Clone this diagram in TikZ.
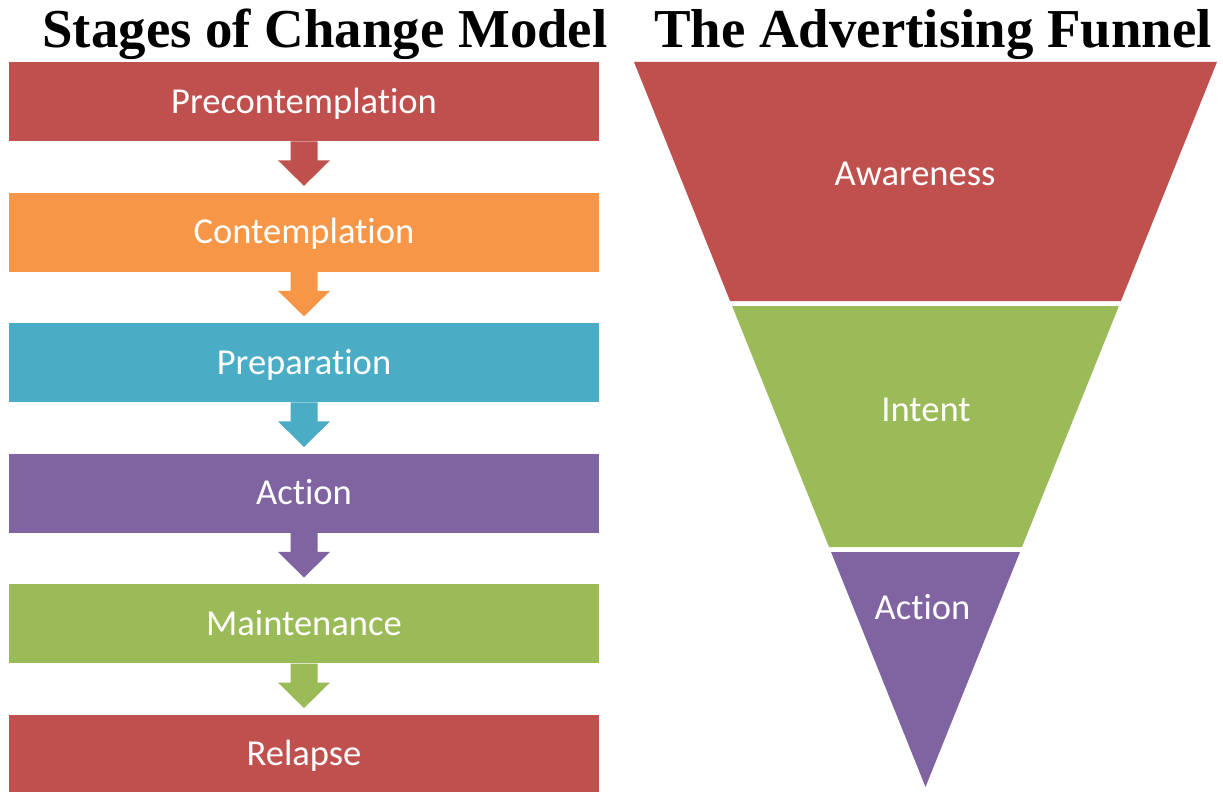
\documentclass[tikz,border=0pt]{standalone}
\usepackage{fontspec}
\setmainfont[Ligatures=NoCommon]{Carlito}
\newfontfamily\titlefont{Liberation Serif}
\usepackage{tikz}
\usetikzlibrary{positioning,calc}

\definecolor{redstage}{HTML}{C0504D}
\definecolor{orangestage}{HTML}{F79646}
\definecolor{bluestage}{HTML}{4BACC6}
\definecolor{purplestage}{HTML}{8064A2}
\definecolor{greenstage}{HTML}{9BBB59}

\begin{document}
\begin{tikzpicture}[
    node distance=1.275cm,
    stage/.style={rectangle, fill=#1, minimum width=14.75cm, minimum height=1.975cm, inner sep=0pt, text=white, font=\fontsize{26}{30}\selectfont, text height=16.5pt, text depth=0pt},
    heading/.style={anchor=base, font=\titlefont\bfseries\fontsize{39}{44}\selectfont},
    funnellabel/.style={text=white, inner sep=0pt, font=\fontsize{26}{30}\selectfont, text height=16.5pt, text depth=0pt},
    stagearrow/.style={to path={
        ($(\tikztostart)+(-0.3375,0)$) -- ++(0,-0.475) -- ++(-0.3125,0)
        -- ($(\tikztotarget)+(0,0.16)$)
        -- ($(\tikztostart)+(0.65,-0.475)$) -- ++(-0.3125,0) -- ++(0,0.475) -- cycle}}
]
\useasboundingbox (0,0) rectangle (30.575,-19.775);

% Headings
\node[heading] (stagestitle) at (8.125,-1.175) {Stages of Change Model};
\node[heading] (funneltitle) at (23.325,-1.175) {The Advertising Funnel};

% Stages of change (left column)
\node[stage=redstage] (pre) at (7.6,-2.5375) {Precontemplation};
\node[stage=orangestage, below=of pre] (con) {Contemplation};
\node[stage=bluestage, below=of con] (prep) {Preparation};
\node[stage=purplestage, below=of prep] (act) {Action};
\node[stage=greenstage, below=of act] (main) {Maintenance};
\node[stage=redstage, below=of main] (rel) {Relapse};

% Block arrows between stages
\fill[redstage] (pre.south) to[stagearrow] (con.north);
\fill[orangestage] (con.south) to[stagearrow] (prep.north);
\fill[bluestage] (prep.south) to[stagearrow] (act.north);
\fill[purplestage] (act.south) to[stagearrow] (main.north);
\fill[greenstage] (main.south) to[stagearrow] (rel.north);

% Advertising funnel (right side)
\coordinate (ftl) at (15.85,-1.55);
\coordinate (ftr) at (30.425,-1.55);
\coordinate (fapex) at (23.1375,-19.675);

\fill[redstage] (ftl) -- (ftr) -- ($(ftr)!0.3297!(fapex)$) -- ($(ftl)!0.3297!(fapex)$) -- cycle;
\fill[greenstage] ($(ftl)!0.3366!(fapex)$) -- ($(ftr)!0.3366!(fapex)$) -- ($(ftr)!0.669!(fapex)$) -- ($(ftl)!0.669!(fapex)$) -- cycle;
\fill[purplestage] ($(ftl)!0.6759!(fapex)$) -- ($(ftr)!0.6759!(fapex)$) -- (fapex) -- cycle;

\node[funnellabel] (awareness) at (22.875,-4.35) {Awareness};
\node[funnellabel] (intent) at (23.15,-10.25) {Intent};
\node[funnellabel] (action) at (23.0625,-15.2) {Action};

\end{tikzpicture}
\end{document}
